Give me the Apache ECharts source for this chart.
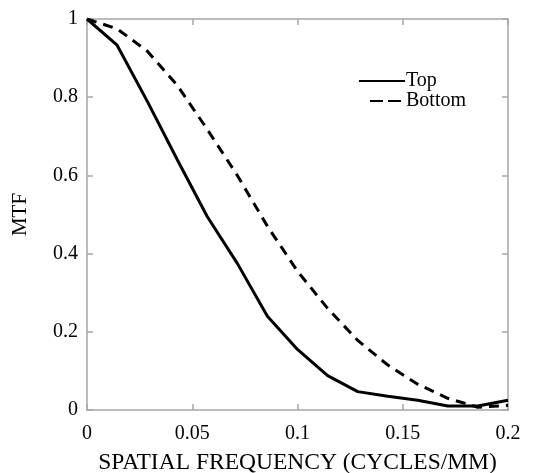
<!DOCTYPE html>
<html>
<head>
<meta charset="utf-8">
<script src="https://cdn.jsdelivr.net/npm/echarts@6/dist/echarts.min.js"></script>
<style>
  html, body { margin: 0; padding: 0; background: #fff; }
  #chart { width: 536px; height: 473px; }
</style>
</head>
<body>
<div id="chart"></div>
<script>
// spatial frequency samples (cycles/mm)
var freq = [0, 0.0143, 0.0286, 0.0429, 0.0571, 0.0714, 0.0857, 0.1, 0.1143, 0.1286, 0.1429, 0.1571, 0.1714, 0.1857, 0.2];
var mtfTop = [1, 0.933, 0.79, 0.64, 0.495, 0.375, 0.24, 0.155, 0.088, 0.047, 0.035, 0.025, 0.01, 0.01, 0.025];
var mtfBottom = [1, 0.975, 0.918, 0.83, 0.718, 0.6, 0.47, 0.355, 0.26, 0.178, 0.115, 0.066, 0.03, 0.007, 0.012];
var xTicks = [0, 0.05, 0.1, 0.15, 0.2];
var yTicks = [0, 0.2, 0.4, 0.6, 0.8, 1];

var font = "Liberation Serif";
var frameColor = "#a6a6a6";

function pairs(xs, ys) {
  return xs.map(function (x, i) { return [x, ys[i]]; });
}

var chart = echarts.init(document.getElementById("chart"));

var baseX = {
  type: "value",
  min: xTicks[0],
  max: xTicks[xTicks.length - 1],
  interval: 0.05,
  axisLine: { show: true, onZero: false, lineStyle: { color: frameColor, width: 1.5 } },
  axisTick: { show: true, inside: true, length: 6, lineStyle: { color: frameColor, width: 1.5 } },
  splitLine: { show: false }
};
var baseY = {
  type: "value",
  min: yTicks[0],
  max: yTicks[yTicks.length - 1],
  interval: 0.2,
  axisLine: { show: true, onZero: false, lineStyle: { color: frameColor, width: 1.5 } },
  axisTick: { show: true, inside: true, length: 6, lineStyle: { color: frameColor, width: 1.5 } },
  splitLine: { show: false }
};

var legendText = { fontFamily: font, fontSize: 20, color: "#000", padding: [0, 0, 0, -4] };

var option = {
  animation: false,
  backgroundColor: "#fff",
  grid: { left: 87, right: 28, top: 19, bottom: 63, outerBoundsMode: "none", containLabel: false },
  legend: [
    {
      data: ["Top"],
      left: 353,
      top: 66,
      itemWidth: 46,
      itemHeight: 14,
      itemGap: 0,
      itemStyle: { opacity: 0 },
      textStyle: legendText
    },
    {
      data: ["Bottom"],
      left: 364,
      top: 86,
      itemWidth: 35,
      itemHeight: 14,
      itemGap: 0,
      itemStyle: { opacity: 0 },
      lineStyle: { type: [13, 5] },
      textStyle: legendText
    }
  ],
  xAxis: [
    Object.assign({}, baseX, {
      position: "bottom",
      name: "SPATIAL FREQUENCY (CYCLES/MM)",
      nameLocation: "middle",
      nameGap: 41,
      nameTextStyle: { fontFamily: font, fontSize: 23.5, color: "#000" },
      axisLabel: {
        fontFamily: font, fontSize: 20, color: "#000", margin: 14,
        formatter: function (v) { return String(+v.toFixed(2)); }
      }
    }),
    Object.assign({}, baseX, { position: "top", axisLabel: { show: false } })
  ],
  yAxis: [
    Object.assign({}, baseY, {
      position: "left",
      name: "MTF",
      nameLocation: "middle",
      nameGap: 56,
      nameTextStyle: { fontFamily: font, fontSize: 21, color: "#000" },
      axisLabel: {
        fontFamily: font, fontSize: 20, color: "#000", margin: 9,
        formatter: function (v) { return String(+v.toFixed(1)); }
      }
    }),
    Object.assign({}, baseY, { position: "right", axisLabel: { show: false } })
  ],
  series: [
    {
      name: "Top",
      type: "line",
      data: pairs(freq, mtfTop),
      showSymbol: false,
      symbol: "none",
      lineStyle: { color: "#000", width: 3, type: "solid" },
      itemStyle: { color: "#000" }
    },
    {
      name: "Bottom",
      type: "line",
      data: pairs(freq, mtfBottom),
      showSymbol: false,
      symbol: "none",
      lineStyle: { color: "#000", width: 3, type: [10, 7] },
      itemStyle: { color: "#000" }
    }
  ]
};

chart.setOption(option);
</script>
</body>
</html>
